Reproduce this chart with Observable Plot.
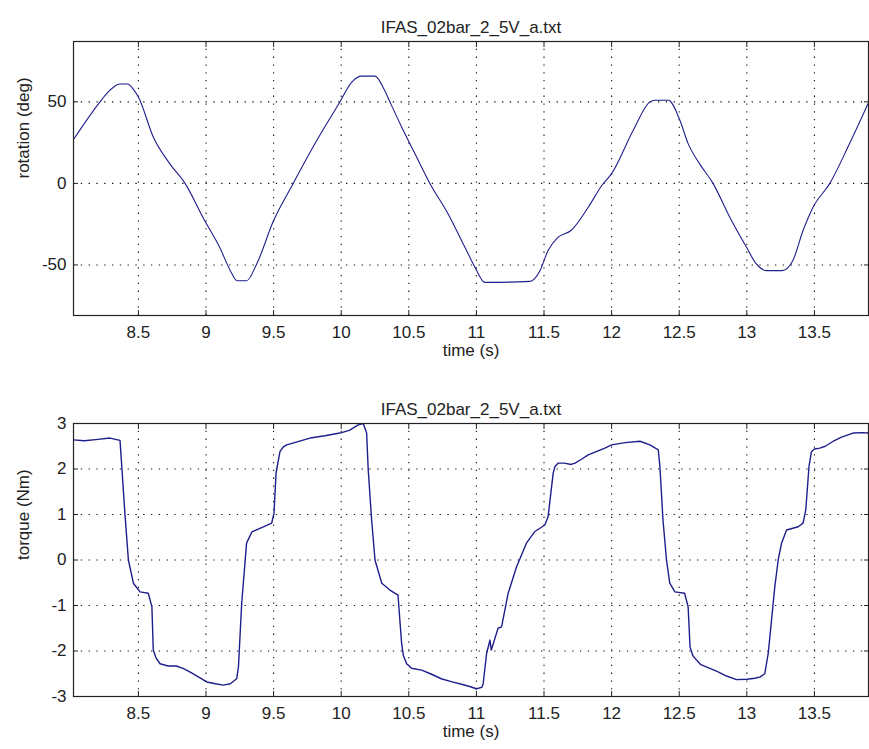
<!DOCTYPE html>
<html>
<head>
<meta charset="utf-8">
<script src="https://cdn.jsdelivr.net/npm/d3@7"></script>
<script src="https://cdn.jsdelivr.net/npm/@observablehq/plot@0.6"></script>
<style>
  html, body { margin: 0; padding: 0; background: #fff; }
  #chart { width: 869px; height: 749px; }
  #chart svg { display: block; }
</style>
</head>
<body>
<div id="chart"></div>
<script>
const plotTitle = "IFAS_02bar_2_5V_a.txt";
const xLabel = "time (s)";
const rotLabel = "rotation (deg)";
const torqueLabel = "torque (Nm)";
const xTicks = [8.5, 9, 9.5, 10, 10.5, 11, 11.5, 12, 12.5, 13, 13.5];
const rotTicks = [-50, 0, 50];
const torqueTicks = [-3, -2, -1, 0, 1, 2, 3];
const xDomain = [8.02, 13.9];
const rotDomain = [-81, 87];
const torqueDomain = [-3, 3];

const rotTime = [8.02, 8.216, 8.27, 8.32, 8.36, 8.42, 8.46, 8.50, 8.61, 8.73, 8.845, 8.99, 9.10, 9.18, 9.23, 9.30, 9.375, 9.50, 9.645, 9.82, 9.98, 10.08, 10.15, 10.25, 10.32, 10.36, 10.447, 10.545, 10.656, 10.79, 10.915, 10.99, 11.063, 11.396, 11.47, 11.53, 11.605, 11.70, 11.827, 11.93, 12.0, 12.16, 12.283, 12.32, 12.42, 12.505, 12.566, 12.65, 12.75, 12.874, 12.998, 13.07, 13.145, 13.26, 13.34, 13.416, 13.49, 13.614, 13.76, 13.897];
const rotDeg = [26.9, 50, 55.5, 59.3, 60.9, 60.9, 58, 53, 28.5, 12.3, 0, -22.8, -39, -53.5, -59.7, -59.7, -49.4, -22.8, 0, 26.4, 48.5, 62.3, 65.8, 65.8, 57.2, 50, 34.6, 18.3, 0, -18.6, -39.2, -51.5, -60.7, -60.1, -53.5, -41.2, -33, -28.9, -14.6, -1, 6, 32.6, 50, 51, 51, 38.7, 24.4, 12.1, 0, -20.7, -39.2, -49.4, -53.5, -53.5, -47.4, -28.9, -14.6, 0, 24.4, 49];

const torqueTime = [8.02, 8.10, 8.20, 8.29, 8.364, 8.377, 8.40, 8.426, 8.463, 8.512, 8.573, 8.6, 8.61, 8.63, 8.66, 8.72, 8.78, 8.83, 8.88, 8.95, 9.005, 9.07, 9.128, 9.18, 9.227, 9.24, 9.264, 9.29, 9.30, 9.34, 9.424, 9.486, 9.503, 9.518, 9.547, 9.57, 9.597, 9.68, 9.77, 9.88, 9.99, 10.06, 10.126, 10.163, 10.188, 10.2, 10.225, 10.25, 10.30, 10.36, 10.42, 10.447, 10.46, 10.484, 10.52, 10.595, 10.66, 10.74, 10.82, 10.89, 10.95, 11.0, 11.04, 11.05, 11.075, 11.10, 11.11, 11.16, 11.186, 11.235, 11.297, 11.37, 11.43, 11.506, 11.53, 11.568, 11.58, 11.605, 11.65, 11.70, 11.73, 11.78, 11.827, 11.90, 11.95, 12.0, 12.1, 12.21, 12.283, 12.33, 12.345, 12.357, 12.38, 12.406, 12.43, 12.468, 12.54, 12.566, 12.58, 12.60, 12.628, 12.66, 12.70, 12.78, 12.85, 12.924, 13.0, 13.06, 13.10, 13.133, 13.158, 13.207, 13.232, 13.257, 13.294, 13.38, 13.416, 13.436, 13.46, 13.478, 13.50, 13.54, 13.58, 13.64, 13.70, 13.786, 13.85, 13.897];
const torqueNm = [2.64, 2.62, 2.65, 2.68, 2.63, 2.06, 1.03, 0, -0.51, -0.70, -0.73, -1.03, -1.98, -2.15, -2.28, -2.33, -2.33, -2.38, -2.46, -2.58, -2.68, -2.72, -2.75, -2.72, -2.61, -2.35, -0.95, 0, 0.37, 0.62, 0.73, 0.81, 1.03, 1.91, 2.38, 2.48, 2.53, 2.6, 2.68, 2.73, 2.79, 2.85, 2.97, 3.0, 2.79, 1.98, 0.88, 0, -0.51, -0.66, -0.77, -1.84, -2.1, -2.28, -2.38, -2.42, -2.5, -2.61, -2.68, -2.73, -2.78, -2.83, -2.8, -2.72, -2.06, -1.76, -1.98, -1.50, -1.47, -0.73, -0.15, 0.37, 0.62, 0.77, 0.95, 1.91, 2.05, 2.13, 2.13, 2.1, 2.13, 2.22, 2.31, 2.4, 2.46, 2.53, 2.58, 2.61, 2.53, 2.45, 2.42, 2.06, 0.88, 0, -0.51, -0.70, -0.73, -1.03, -1.91, -2.1, -2.2, -2.3, -2.35, -2.45, -2.55, -2.63, -2.62, -2.6, -2.57, -2.50, -2.06, -0.59, 0, 0.37, 0.66, 0.73, 0.81, 1.10, 2.06, 2.38, 2.44, 2.46, 2.5, 2.61, 2.7, 2.79, 2.8, 2.79];

const rotData = rotTime.map((t, i) => ({t, v: rotDeg[i]}));
const torqueData = torqueTime.map((t, i) => ({t, v: torqueNm[i]}));

const FONT = "'Liberation Sans', Arial, Helvetica, sans-serif";
const lineColor = "#1e1e8c";
const fmt = d => String(d);

function panel({data, yDomain, yTicks, yLabel, height, marginTop, marginBottom, curve, strokeWidth}) {
  return Plot.plot({
    width: 869,
    height,
    marginLeft: 73,
    marginRight: 1,
    marginTop,
    marginBottom,
    style: {fontFamily: FONT, fontSize: "17px", color: "#222", background: "white", overflow: "visible"},
    x: {domain: xDomain},
    y: {domain: yDomain},
    marks: [
      Plot.gridX(xTicks, {stroke: "#111", strokeOpacity: 1, strokeWidth: 1.1, strokeDasharray: "1.3,6.5"}),
      Plot.gridY(yTicks, {stroke: "#111", strokeOpacity: 1, strokeWidth: 1.1, strokeDasharray: "1.3,6.5"}),
      Plot.axisX(xTicks, {anchor: "bottom", tickSize: 0, tickPadding: 10, tickFormat: fmt, label: null}),
      Plot.axisX(xTicks, {anchor: "bottom", tickSize: -5, tickFormat: () => "", label: null}),
      Plot.axisX(xTicks, {anchor: "top", tickSize: -5, tickFormat: () => "", label: null}),
      Plot.axisY(yTicks, {anchor: "left", tickSize: 0, tickPadding: 7, tickFormat: fmt, label: null}),
      Plot.axisY(yTicks, {anchor: "left", tickSize: -5, tickFormat: () => "", label: null}),
      Plot.axisY(yTicks, {anchor: "right", tickSize: -5, tickFormat: () => "", label: null}),
      Plot.line(data, {x: "t", y: "v", stroke: lineColor, strokeWidth, curve, clip: true}),
      Plot.frame({stroke: "#222", strokeWidth: 1.2}),
      Plot.text([plotTitle], {frameAnchor: "top", dy: -21, text: d => d, fontSize: 17, fill: "#222"}),
      Plot.text([xLabel], {frameAnchor: "bottom", dy: 40, text: d => d, fontSize: 17, fill: "#222"}),
      Plot.text([yLabel], {frameAnchor: "left", dx: -50, rotate: -90, text: d => d, fontSize: 17, fill: "#222"})
    ]
  });
}

const topPanel = panel({data: rotData, yDomain: rotDomain, yTicks: rotTicks, yLabel: rotLabel,
  height: 374, marginTop: 41, marginBottom: 59, curve: "monotone-x", strokeWidth: 1.1});
const bottomPanel = panel({data: torqueData, yDomain: torqueDomain, yTicks: torqueTicks, yLabel: torqueLabel,
  height: 375, marginTop: 49, marginBottom: 53, curve: "linear", strokeWidth: 1.4});

const el = document.getElementById("chart");
el.appendChild(topPanel);
el.appendChild(bottomPanel);
</script>
</body>
</html>
